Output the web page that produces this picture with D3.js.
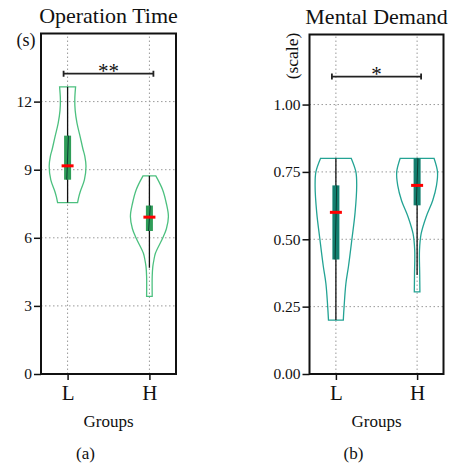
<!DOCTYPE html>
<meta charset="utf-8">
<head>
<title>Violin plots</title>
<script src="https://cdnjs.cloudflare.com/ajax/libs/d3/7.8.5/d3.min.js"></script>
<style>
  body { margin: 0; background: #fff; }
  text { font-family: "Liberation Serif", "DejaVu Serif", serif; fill: #111; }
  .grid line { stroke: #9a9a9a; stroke-width: 1; stroke-dasharray: 1.5,2.5; }
  .tick line { stroke: #111; stroke-width: 1.5; }
</style>
</head>
<body>
<svg width="453" height="468"></svg>
<script>
// groups and tick labels
var groups = ["L", "H"];
var opTicks = [0, 3, 6, 9, 12];
var mdTicks = [0, 0.25, 0.5, 0.75, 1.0];

// violin outlines: value, relative half width
var opL_v = [7.55, 7.8, 8.05, 8.55, 9.15, 9.6, 9.9, 10.45, 11.05, 11.6, 12.1, 12.65];
var opL_w = [0.5, 0.56, 0.64, 0.84, 0.92, 0.86, 0.77, 0.63, 0.47, 0.38, 0.36, 0.4];
var opH_v = [3.42, 4.3, 4.73, 5.0, 5.32, 5.98, 6.4, 6.94, 7.5, 8.12, 8.73];
var opH_w = [0.14, 0.14, 0.17, 0.22, 0.3, 0.66, 0.85, 0.95, 0.85, 0.66, 0.32];
var mdL_v = [0.2, 0.25, 0.336, 0.4, 0.5, 0.6, 0.7, 0.75, 0.8];
var mdL_w = [0.37, 0.41, 0.5, 0.63, 0.8, 0.96, 1.04, 1.0, 0.77];
var mdH_v = [0.305, 0.37, 0.46, 0.52, 0.583, 0.644, 0.7, 0.75, 0.8];
var mdH_w = [0.14, 0.13, 0.12, 0.2, 0.45, 0.78, 0.97, 1.02, 0.85];

// box stats per group (L, H)
var opQ1 = [8.56, 6.3], opQ3 = [10.5, 7.42], opMed = [9.17, 6.91];
var opLo = [7.55, 4.68], opHi = [12.65, 8.73];
var mdQ1 = [0.425, 0.626], mdQ3 = [0.70, 0.80], mdMed = [0.60, 0.70];
var mdLo = [0.2, 0.367], mdHi = [0.8, 0.8];

var svg = d3.select("svg");

function zip(v, w) { return v.map(function(d, i) { return { v: d, w: w[i] }; }); }

function drawPanel(p) {
  var g = svg.append("g");
  var x = d3.scaleLinear().domain([0.675, 2.325]).range([p.left, p.right]);
  var y = d3.scaleLinear().domain([0, p.ymax]).range([374, p.top]);
  var w = d3.scaleLinear().domain([0, 1]).range([0, 20]);
  var gx = function(i) { return x(i + 1); };

  // grid
  var grid = g.append("g").attr("class", "grid");
  grid.selectAll(".h").data(p.ticks.slice(1)).enter().append("line")
    .attr("x1", p.left).attr("x2", p.right)
    .attr("y1", function(d) { return y(d); }).attr("y2", function(d) { return y(d); });
  grid.selectAll(".v").data(groups).enter().append("line")
    .attr("x1", function(d, i) { return gx(i); }).attr("x2", function(d, i) { return gx(i); })
    .attr("y1", y(0)).attr("y2", p.top);

  // violins
  var shapes = [zip(p.vL, p.wL), zip(p.vH, p.wH)];
  shapes.forEach(function(s, i) {
    var area = d3.area()
      .y(function(d) { return y(d.v); })
      .x0(function(d) { return gx(i) - w(d.w); })
      .x1(function(d) { return gx(i) + w(d.w); })
      .curve(d3.curveCatmullRom);
    g.append("path").datum(s).attr("d", area)
      .attr("fill", "none").attr("stroke", p.vcol).attr("stroke-width", 1.3);
  });

  // whiskers, boxes, medians
  groups.forEach(function(d, i) {
    g.append("line").attr("x1", gx(i)).attr("x2", gx(i))
      .attr("y1", y(p.lo[i])).attr("y2", y(p.hi[i]))
      .attr("stroke", "#111").attr("stroke-width", 1.3);
    g.append("rect").attr("x", gx(i) - 3.5).attr("width", 7)
      .attr("y", y(p.q3[i])).attr("height", y(p.q1[i]) - y(p.q3[i]))
      .attr("fill", p.bcol);
    g.append("line").attr("x1", gx(i) - 0.8).attr("x2", gx(i) + 0.8)
      .attr("y1", y(p.q1[i])).attr("y2", y(p.q3[i]))
      .attr("stroke", "#0b3d33").attr("stroke-width", 1);
    g.append("line").attr("x1", gx(i) - 6).attr("x2", gx(i) + 6)
      .attr("y1", y(p.med[i])).attr("y2", y(p.med[i]))
      .attr("stroke", "#ff0000").attr("stroke-width", 3);
  });

  // frame
  g.append("rect").attr("x", p.left).attr("y", p.top)
    .attr("width", p.right - p.left).attr("height", y(0) - p.top)
    .attr("fill", "none").attr("stroke", "#111").attr("stroke-width", 2);

  // axes
  var ya = g.append("g").attr("transform", "translate(" + p.left + ",0)")
    .call(d3.axisLeft(y).tickValues(p.ticks).tickFormat(p.fmt).tickSize(7).tickPadding(2).tickSizeOuter(0));
  ya.select(".domain").remove();
  ya.selectAll("text").style("font-size", "15.5px");
  var xa = g.append("g").attr("transform", "translate(0," + y(0) + ")")
    .call(d3.axisBottom(x).tickValues([1, 2]).tickFormat(function(d) { return groups[d - 1]; })
      .tickSize(6).tickPadding(5).tickSizeOuter(0));
  xa.select(".domain").remove();
  xa.selectAll("text").style("font-size", "21px");

  // significance bracket
  var by = y(p.sig), x1 = gx(0) - 4, x2 = gx(1) + 4;
  g.append("path")
    .attr("d", "M" + x1 + "," + (by - 3) + "V" + (by + 3) + "M" + x1 + "," + by + "H" + x2 +
      "M" + x2 + "," + (by - 3) + "V" + (by + 3))
    .attr("fill", "none").attr("stroke", "#222").attr("stroke-width", 1.8);
  g.append("text").attr("x", (x1 + x2) / 2).attr("y", by + 4)
    .attr("text-anchor", "middle").style("font-size", "21px").text(p.star);

  // titles and labels
  var cx = (p.left + p.right) / 2;
  g.append("text").attr("x", cx).attr("y", p.titleY).attr("text-anchor", "middle")
    .style("font-size", "22px").text(p.title);
  g.append("text").attr("x", cx).attr("y", 427).attr("text-anchor", "middle")
    .style("font-size", "17px").text("Groups");
  g.append("text").attr("x", cx - 23).attr("y", 459).attr("text-anchor", "middle")
    .style("font-size", "17px").text(p.tag);
  if (p.rotUnit) {
    g.append("text").attr("transform", "translate(298,56) rotate(-90)")
      .attr("text-anchor", "middle").style("font-size", "17.5px").text(p.unit);
  } else {
    g.append("text").attr("x", 26).attr("y", 46).attr("text-anchor", "middle")
      .style("font-size", "18px").text(p.unit);
  }
}

drawPanel({
  left: 41, right: 176, top: 33.5, ymax: 15, ticks: opTicks, fmt: d3.format("d"),
  vL: opL_v, wL: opL_w, vH: opH_v, wH: opH_w,
  q1: opQ1, q3: opQ3, med: opMed, lo: opLo, hi: opHi,
  vcol: "#4cc07f", bcol: "#2f9d58", sig: 13.23, star: "**",
  title: "Operation Time", titleY: 23, tag: "(a)", unit: "(s)", rotUnit: false
});

drawPanel({
  left: 309.5, right: 443.5, top: 34.5, ymax: 1.26, ticks: mdTicks, fmt: d3.format(".2f"),
  vL: mdL_v, wL: mdL_w, vH: mdH_v, wH: mdH_w,
  q1: mdQ1, q3: mdQ3, med: mdMed, lo: mdLo, hi: mdHi,
  vcol: "#23a394", bcol: "#137f6f", sig: 1.104, star: "*",
  title: "Mental Demand", titleY: 24, tag: "(b)", unit: "(scale)", rotUnit: true
});
</script>
</body>
</html>
